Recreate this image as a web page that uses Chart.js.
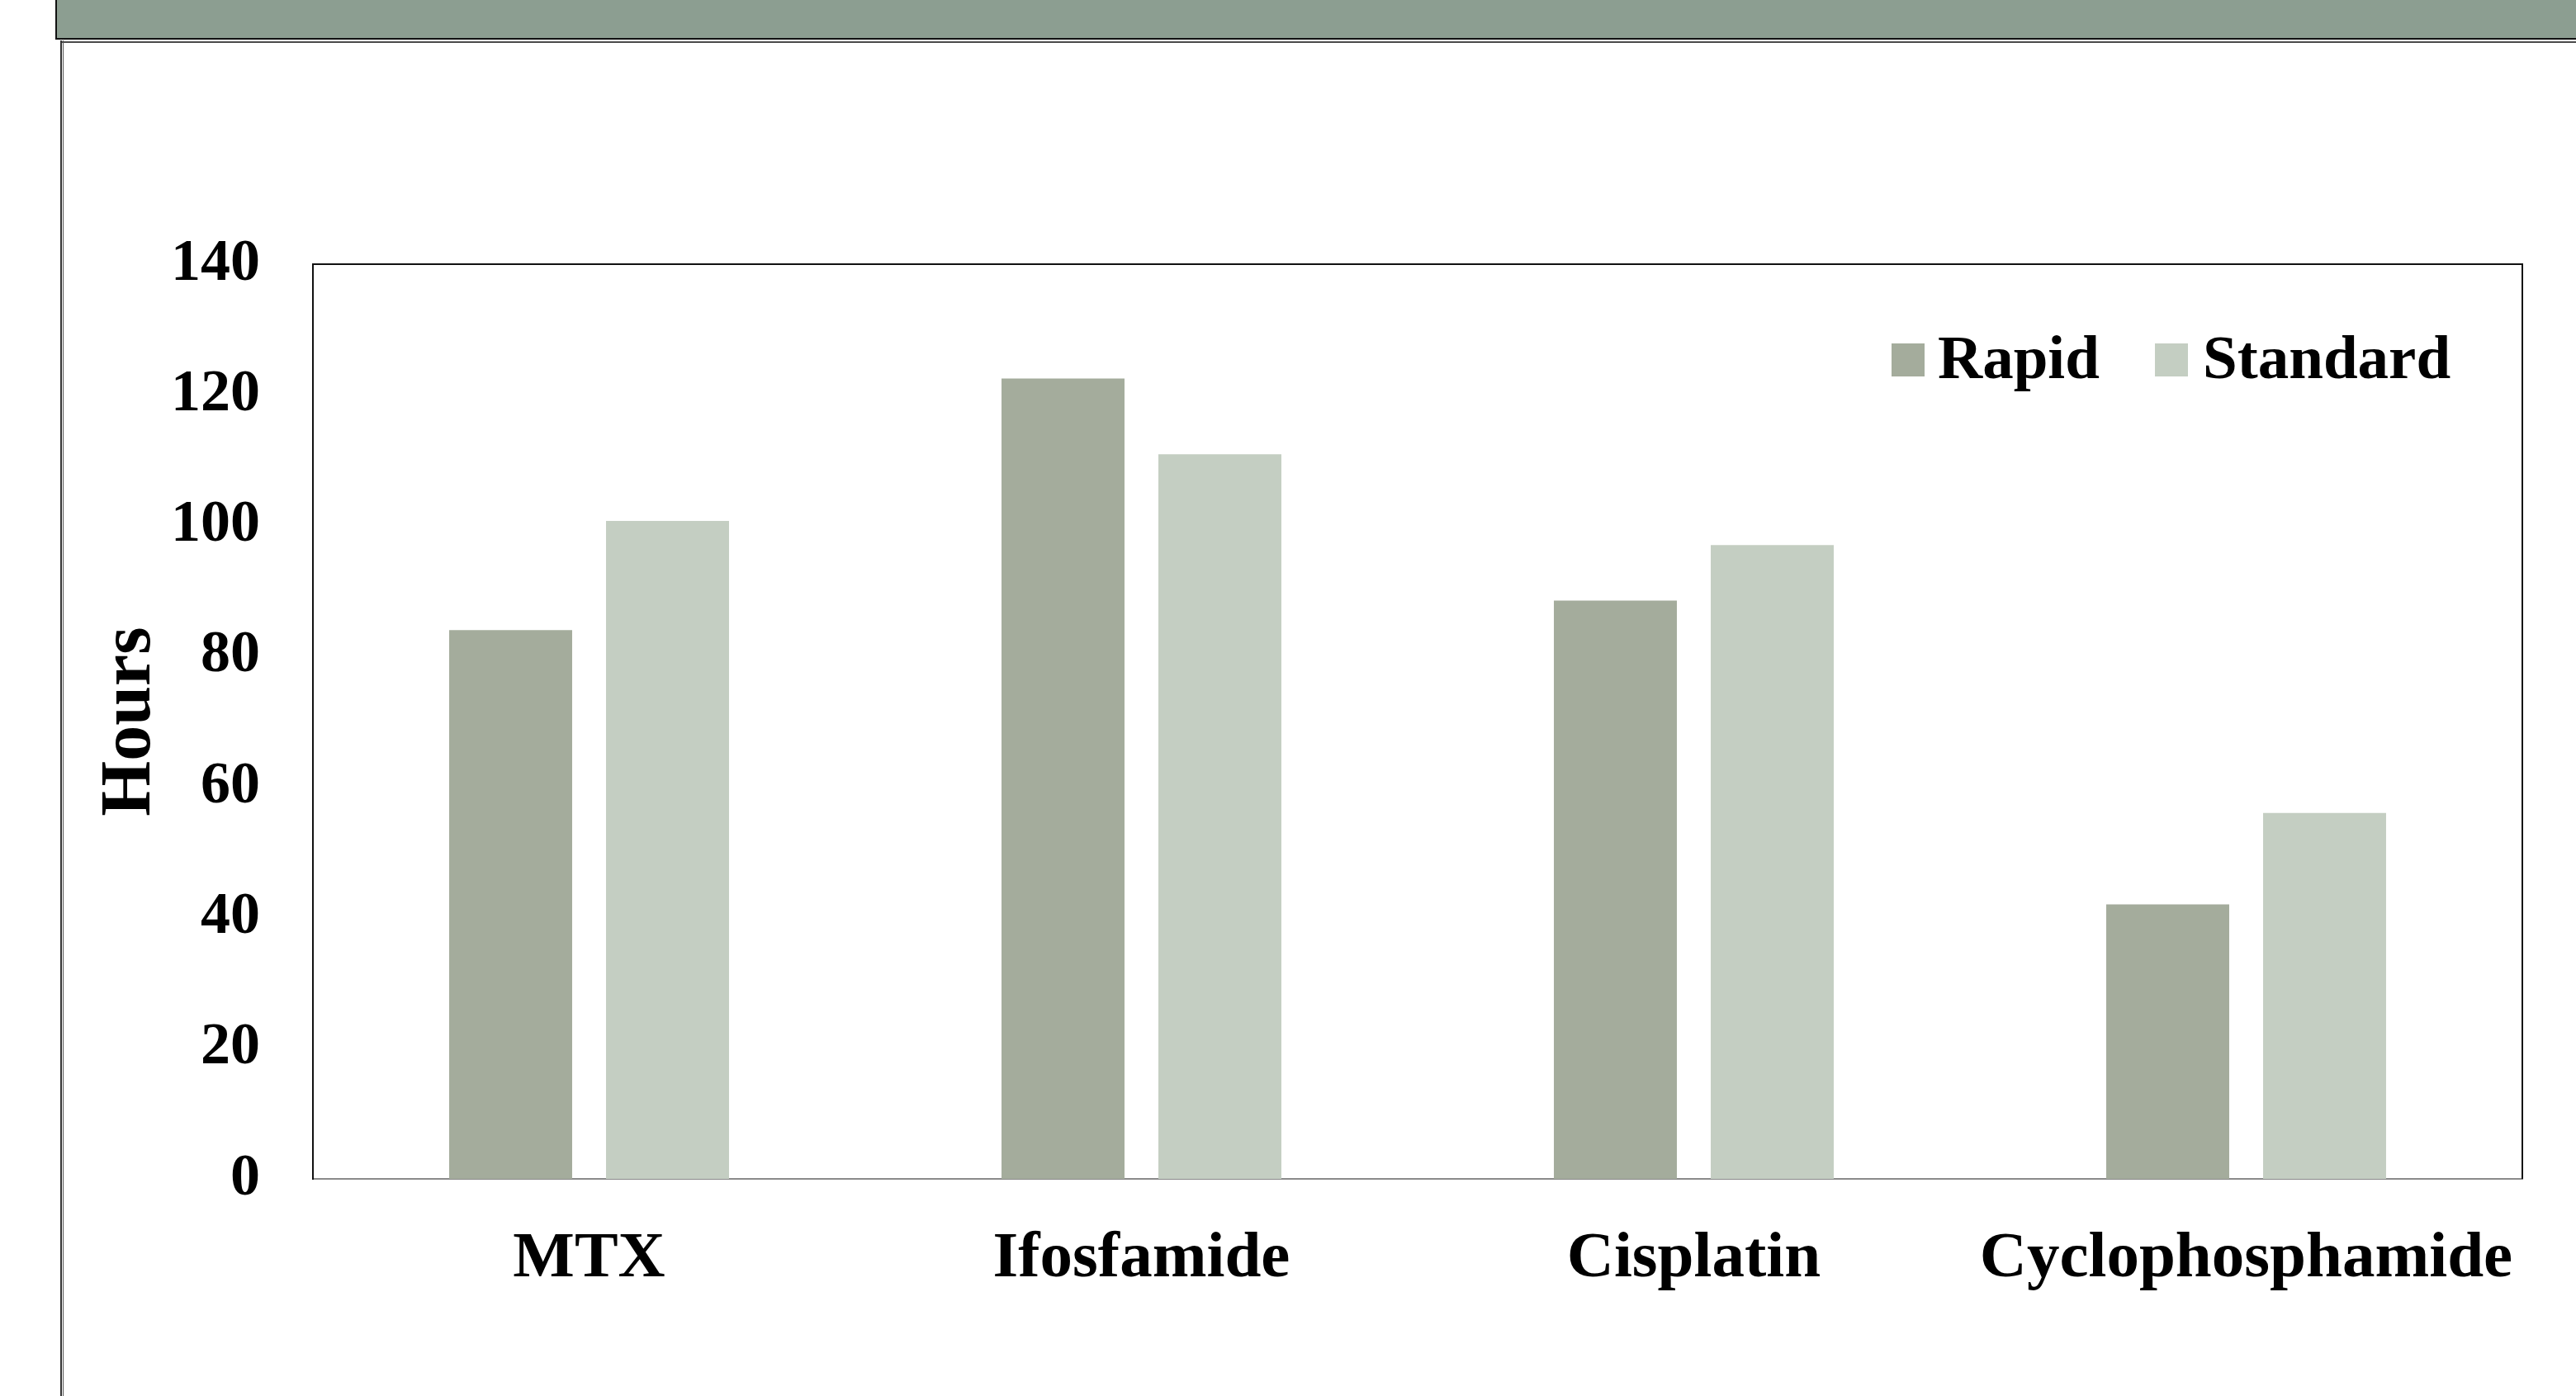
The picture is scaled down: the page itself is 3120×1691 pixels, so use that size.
<!DOCTYPE html>
<html>
<head>
<meta charset="utf-8">
<script src="https://cdn.jsdelivr.net/npm/chart.js@4.4.0/dist/chart.umd.min.js"></script>
<style>
  html, body { margin: 0; padding: 0; background: #ffffff; }
  #wrap { position: relative; width: 3120px; height: 1691px; overflow: hidden; }
  #chart { position: absolute; left: 0; top: 0; }
  .header { position: absolute; left: 67px; top: 0; width: 3060px; height: 46px;
            background: #8c9e91; border-left: 2px solid #111; border-bottom: 2px solid #111; }
  .rule { position: absolute; left: 73px; top: 50px; width: 3050px; height: 2px; background: #4a4a4a; }
  .side1 { position: absolute; left: 73px; top: 49px; width: 2px; height: 1650px; background: #333; }
  .side2 { position: absolute; left: 76px; top: 49px; width: 1px; height: 1650px; background: #555; }
</style>
</head>
<body>
<div id="wrap">
  <canvas id="chart" width="3120" height="1691"></canvas>
  <div class="header"></div>
  <div class="rule"></div>
  <div class="side1"></div>
  <div class="side2"></div>
</div>
<script>
// Drug categories and mean hours per protocol
const categories = ['MTX', 'Ifosfamide', 'Cisplatin', 'Cyclophosphamide'];
const rapidHours = [84, 122.5, 88.5, 42];
const standardHours = [100.7, 110.9, 97, 56];
const seriesNames = ['Rapid', 'Standard'];
const yTicks = [0, 20, 40, 60, 80, 100, 120, 140];

const SERIF = '"Liberation Serif", "Times New Roman", serif';
const rapidColor = '#a4ac9c';
const standardColor = '#c4cec2';

// Frame around the plot area (top and right edges; left and bottom come from the axes)
const frame = {
  id: 'frame',
  beforeDatasetsDraw(chart) {
    const { ctx, chartArea: a } = chart;
    ctx.save();
    ctx.strokeStyle = '#111';
    ctx.lineWidth = 2;
    ctx.beginPath();
    ctx.moveTo(a.left, a.top);
    ctx.lineTo(a.right, a.top);
    ctx.lineTo(a.right, a.bottom);
    ctx.stroke();
    ctx.restore();
  }
};

// Legend drawn inside the plot, top right
const insideLegend = {
  id: 'insideLegend',
  afterDatasetsDraw(chart) {
    const { ctx, chartArea: a } = chart;
    const items = [
      { boxX: a.right - 764, textX: a.right - 708 },
      { boxX: a.right - 445, textX: a.right - 387 }
    ];
    ctx.save();
    ctx.font = 'bold 75px ' + SERIF;
    ctx.textBaseline = 'alphabetic';
    ctx.textAlign = 'left';
    chart.data.datasets.forEach((ds, i) => {
      const it = items[i];
      ctx.fillStyle = ds.backgroundColor;
      ctx.fillRect(it.boxX, a.top + 96, 40, 40);
      ctx.fillStyle = '#000';
      ctx.fillText(ds.label, it.textX, a.top + 138);
    });
    ctx.restore();
  }
};

new Chart(document.getElementById('chart'), {
  type: 'bar',
  data: {
    labels: categories,
    datasets: [
      { label: seriesNames[0], data: rapidHours, backgroundColor: rapidColor,
        barPercentage: 0.784, categoryPercentage: 0.568 },
      { label: seriesNames[1], data: standardHours, backgroundColor: standardColor,
        barPercentage: 0.784, categoryPercentage: 0.568 }
    ]
  },
  options: {
    responsive: false,
    devicePixelRatio: 1,
    animation: false,
    layout: { padding: { left: 0, top: 320, right: 65, bottom: 113 } },
    plugins: {
      legend: { display: false },
      tooltip: { enabled: false }
    },
    scales: {
      x: {
        grid: { display: false, drawTicks: false },
        border: { display: true, color: '#8a8a8a', width: 2 },
        ticks: {
          color: '#000',
          padding: 50,
          maxRotation: 0,
          font: { family: SERIF, size: 79, weight: 'bold' }
        },
        afterFit(scale) { scale.height = 150; }
      },
      y: {
        min: 0,
        max: 140,
        afterBuildTicks(scale) { scale.ticks = yTicks.map(v => ({ value: v })); },
        grid: { display: false, drawTicks: false },
        border: { display: true, color: '#111', width: 2 },
        ticks: {
          color: '#000',
          padding: 64,
          font: { family: SERIF, size: 72, weight: 'bold' }
        },
        title: {
          display: true,
          text: 'Hours',
          color: '#000',
          padding: { top: 107, bottom: 0 },
          font: { family: SERIF, size: 86, weight: 'bold' }
        },
        afterFit(scale) { scale.width = 379; }
      }
    }
  },
  plugins: [frame, insideLegend]
});
</script>
</body>
</html>
